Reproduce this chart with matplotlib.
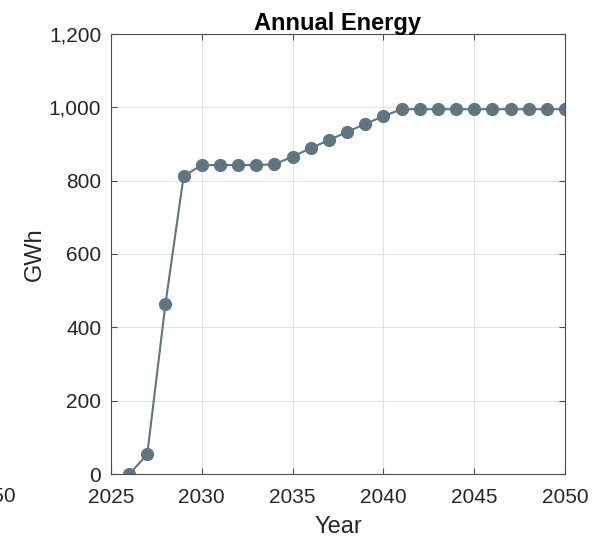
import numpy as np
import matplotlib
matplotlib.use("Agg")
import matplotlib.pyplot as plt
from matplotlib.ticker import FuncFormatter

years = list(range(2026, 2051))
energy = [0, 55, 464, 812, 842, 842, 842, 842, 844, 865, 888, 910, 932, 954, 975,
          994, 994, 994, 994, 994, 994, 994, 994, 994, 994]

plt.rcParams['font.family'] = ['Liberation Sans', 'DejaVu Sans']

fig = plt.figure(figsize=(6.03, 5.41), dpi=100)
ax = fig.add_axes([0.184, 0.123, 0.753, 0.815])

ax.plot(years, energy, color='#5f7680', linewidth=1.5, marker='o', markersize=8.5)

ax.set_xlim(2025, 2050)
ax.set_ylim(0, 1200)
ax.set_xticks([2025, 2030, 2035, 2040, 2045, 2050])
ax.set_yticks([0, 200, 400, 600, 800, 1000, 1200])
ax.yaxis.set_major_formatter(FuncFormatter(lambda v, p: f"{int(v):,}"))

ax.grid(True, color='#e3e3e3', linewidth=0.8)
ax.set_axisbelow(True)
for s in ax.spines.values():
    s.set_color('#4d4d4d')
    s.set_linewidth(0.8)
ax.tick_params(direction='in', length=4, width=0.8, color='#4d4d4d',
               labelsize=15, labelcolor='#262626', top=True, right=True)
ax.tick_params(axis='y', pad=7)
ax.tick_params(axis='x', pad=10)

ax.set_title("Annual Energy", fontsize=17, fontweight='bold', pad=2.5)
ax.set_xlabel("Year", fontsize=17, color='#262626', labelpad=6)
ax.set_ylabel("GWh", fontsize=17, color='#262626', labelpad=2)

# clipped tick label from the neighbouring panel
fig.text(16 / 603, 1 - 497 / 541, "2050", ha='right', va='center', fontsize=15, color='#262626')

fig.savefig("out.png", dpi=100)
